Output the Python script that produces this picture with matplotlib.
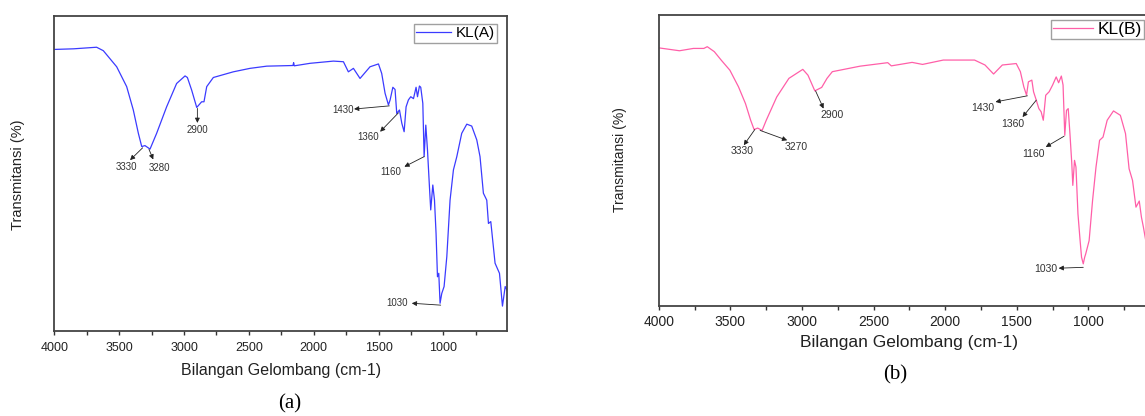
import numpy as np
import matplotlib
matplotlib.use('Agg')
import matplotlib.pyplot as plt

plt.rcParams['font.family'] = ['Liberation Sans', 'DejaVu Sans']

# spectrum KL(A), wavenumber (cm-1) and transmittance (arbitrary %)
wn_a = [4000, 3850, 3674, 3622, 3519, 3442, 3391, 3352, 3326, 3301, 3262, 3211, 3134, 3057,
        2992, 2974, 2941, 2902, 2864, 2846, 2825, 2774, 2620, 2491, 2362, 2160, 2155, 2150,
        2028, 1848, 1771, 1733, 1694, 1643, 1566, 1501, 1476, 1450, 1424, 1411, 1390, 1373,
        1360, 1339, 1321, 1303, 1288, 1270, 1252, 1231, 1211, 1200, 1185, 1175, 1159, 1149,
        1136, 1123, 1108, 1098, 1082, 1069, 1057, 1046, 1036, 1026, 1013, 995, 974, 949,
        923, 897, 859, 820, 782, 743, 718, 692, 666, 653, 635, 602, 568, 545, 524, 511]
t_a = [89.3, 89.5, 90.0, 88.9, 83.8, 77.5, 70.1, 62.7, 58.5, 58.8, 57.7, 62.7, 71.1, 78.5,
       80.9, 80.4, 76.4, 70.9, 72.7, 72.7, 77.5, 80.4, 82.2, 83.3, 84.0, 84.2, 85.1, 84.1,
       84.9, 85.6, 85.4, 82.2, 83.3, 80.1, 83.8, 84.7, 81.7, 75.4, 71.7, 73.3, 77.3, 76.6,
       69.0, 70.1, 65.9, 63.2, 71.1, 73.3, 74.3, 73.7, 77.3, 74.3, 77.7, 77.3, 72.2, 55.3,
       65.3, 57.4, 45.8, 38.4, 46.3, 41.5, 31.0, 17.2, 18.3, 8.8, 11.9, 14.1, 23.6, 41.5,
       51.1, 55.3, 62.7, 65.6, 65.0, 60.6, 55.3, 43.7, 41.5, 34.1, 34.7, 21.5, 18.3, 7.9, 14.1, 13.0]

# spectrum KL(B)
wn_b = [4000, 3855, 3758, 3685, 3661, 3612, 3564, 3503, 3443, 3394, 3358, 3334, 3309, 3278,
        3249, 3176, 3091, 2994, 2958, 2910, 2862, 2825, 2788, 2594, 2401, 2376, 2231, 2158,
        2013, 1795, 1722, 1662, 1601, 1504, 1475, 1451, 1432, 1419, 1395, 1383, 1364, 1346,
        1330, 1315, 1298, 1274, 1250, 1225, 1208, 1189, 1177, 1165, 1153, 1141, 1129, 1116,
        1109, 1097, 1087, 1073, 1058, 1048, 1036, 1026, 1019, 995, 971, 947, 922, 898, 869,
        825, 777, 741, 716, 692, 668, 645, 630, 616, 600]
t_b = [88.7, 87.7, 88.5, 88.5, 89.1, 87.4, 84.5, 81.0, 75.3, 69.5, 63.8, 60.6, 61.1, 60.3,
       63.8, 71.8, 78.2, 81.3, 79.3, 73.9, 75.1, 78.2, 80.5, 82.4, 83.6, 82.5, 83.7, 83.0,
       84.5, 84.5, 82.8, 79.7, 82.8, 83.3, 80.5, 75.3, 72.4, 77.0, 77.6, 73.6, 70.7, 67.8,
       66.7, 63.8, 72.4, 73.6, 75.9, 78.7, 76.7, 79.0, 75.9, 58.6, 67.2, 67.8, 59.2, 48.9,
       41.4, 50.0, 47.7, 31.6, 22.4, 16.7, 14.4, 16.7, 17.8, 22.4, 36.2, 47.7, 56.9, 58.0, 63.8,
       67.0, 65.5, 59.2, 47.1, 43.1, 33.9, 36.0, 30.5, 27.0, 22.5]

# peak labels: text, point on curve, arrow head, text position
peaks_a = [('3330', (3319, 58.1), (3416, 54.2), (3442, 52.1)),
           ('3280', (3270, 57.6), (3237, 54.4), (3190, 51.6)),
           ('2900', (2897, 70.6), (2897, 66.0), (2897, 63.7)),
           ('1430', (1417, 71.4), (1689, 70.4), (1771, 70.1)),
           ('1360', (1347, 69.2), (1488, 63.2), (1584, 61.4)),
           ('1160', (1149, 55.3), (1301, 52.1), (1406, 50.5)),
           ('1030', (1021, 8.2), (1244, 8.8), (1355, 8.8))]
peaks_b = [('3330', (3329, 60.6), (3406, 55.2), (3414, 53.2)),
           ('3270', (3292, 60.3), (3103, 56.9), (3043, 54.6)),
           ('2900', (2905, 73.9), (2849, 67.8), (2793, 65.7)),
           ('1430', (1426, 72.2), (1649, 70.1), (1741, 68.0)),
           ('1360', (1364, 70.7), (1460, 64.9), (1528, 62.4)),
           ('1160', (1170, 58.3), (1298, 54.6), (1383, 52.1)),
           ('1030', (1036, 13.2), (1208, 12.9), (1298, 12.6))]

W, H = 1145, 416
fig = plt.figure(figsize=(W / 100, H / 100), dpi=100)


def make_ax(x0, x1, ytop, ybot):
    return fig.add_axes([x0 / W, 1 - ybot / H, (x1 - x0) / W, (ybot - ytop) / H])


def style(ax, tsize, pad):
    ax.set_xlim(4000, 510)
    ax.set_ylim(0, 100)
    ax.set_yticks([])
    ax.set_xticks([4000, 3500, 3000, 2500, 2000, 1500, 1000])
    ax.set_xticks(np.arange(3750, 500, -500), minor=True)
    ax.tick_params(axis='x', which='both', direction='out', length=3, width=1,
                   color='#333333', labelsize=tsize, pad=pad, labelcolor='#222222')
    for s in ax.spines.values():
        s.set_color('#444444')
        s.set_linewidth(1.3)


def label_peaks(ax, peaks, fsize):
    for txt, tail, head, pos in peaks:
        ax.annotate('', xy=head, xytext=tail,
                    arrowprops=dict(arrowstyle='-|>', color='#222222', lw=0.6,
                                    mutation_scale=7, shrinkA=0, shrinkB=0))
        ax.text(pos[0], pos[1], txt, fontsize=fsize, color='#333333',
                ha='center', va='center')


# panel (a)
ax1 = make_ax(54.3, 507, 15.7, 331)
ax1.plot(wn_a, t_a, color='#3b3bff', lw=0.9, label='KL(A)')
style(ax1, 9, 5)
label_peaks(ax1, peaks_a, 7)
leg1 = ax1.legend(loc='upper right', bbox_to_anchor=(497 / W, 1 - 24 / H),
                  bbox_transform=fig.transFigure, fontsize=11, frameon=True,
                  fancybox=False, borderpad=0.15, handlelength=2.3,
                  handletextpad=0.3, borderaxespad=0)
leg1.get_frame().set_edgecolor('#888888')
leg1.get_frame().set_linewidth(1.0)
fig.text(18 / W, 1 - 175 / H, 'Transmitansi (%)', rotation=90, fontsize=10.5,
         ha='center', va='center', color='#222222')
fig.text(281 / W, 1 - 370 / H, 'Bilangan Gelombang (cm-1)', fontsize=11.5,
         ha='center', va='center', color='#222222')
fig.text(290 / W, 1 - 404 / H, '(a)', fontsize=15, family='Liberation Serif',
         ha='center', va='center')

# panel (b), cut at the right edge like the source image
ax2 = make_ax(658.7, 1158.6, 15, 305.7)
ax2.plot(wn_b, t_b, color='#ff5fa8', lw=0.9, label='KL(B)')
style(ax2, 10, 4)
label_peaks(ax2, peaks_b, 7.5)
leg2 = ax2.legend(loc='upper right', bbox_to_anchor=(1144 / W, 1 - 20 / H),
                  bbox_transform=fig.transFigure, fontsize=12.5, frameon=True,
                  fancybox=False, borderpad=0.1, handlelength=2.3,
                  handletextpad=0.3, borderaxespad=0)
leg2.get_frame().set_edgecolor('#888888')
leg2.get_frame().set_linewidth(1.0)
fig.text(620 / W, 1 - 160 / H, 'Transmitansi (%)', rotation=90, fontsize=10,
         ha='center', va='center', color='#222222')
fig.text(909 / W, 1 - 343 / H, 'Bilangan Gelombang (cm-1)', fontsize=12.5,
         ha='center', va='center', color='#222222')
fig.text(895 / W, 1 - 375 / H, '(b)', fontsize=15, family='Liberation Serif',
         ha='center', va='center')

fig.savefig('out.png', dpi=100)
